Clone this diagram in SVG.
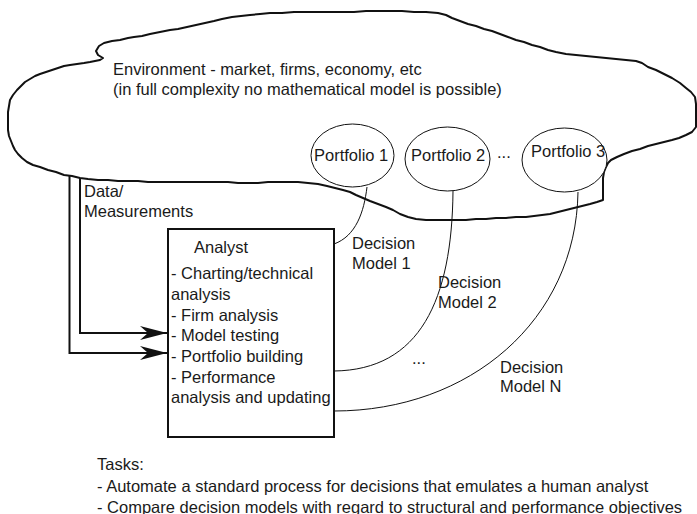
<svg xmlns="http://www.w3.org/2000/svg" width="697" height="514" viewBox="0 0 697 514">
  <style>
    text { font-family: "Liberation Sans", Arial, sans-serif; font-size: 16.5px; fill: #1a1a1a; }
    .cloud { fill: #ffffff; stroke: #111111; stroke-width: 2; stroke-linejoin: round; }
    .port { fill: #ffffff; stroke: #111111; stroke-width: 1; }
    .box { fill: #ffffff; stroke: #111111; stroke-width: 2; }
    .flow { fill: none; stroke: #111111; stroke-width: 2; }
    .link { fill: none; stroke: #111111; stroke-width: 1; }
  </style>
  <defs>
    <marker id="head" markerUnits="userSpaceOnUse" markerWidth="30" markerHeight="16" viewBox="-28 -8 30 16" refX="0" refY="0" orient="auto">
      <path d="M0,0 L-27,-7 L-19,0 L-27,7 Z" fill="#111111"/>
    </marker>
  </defs>

  <rect width="697" height="514" fill="#ffffff"/>

  <!-- environment cloud -->
  <g id="environment">
    <path class="cloud" d="M90,62 L100,60 L103,58 L98,55 L96,51 L99,46 L104,43 L112,41 L120,40 L128,38 L134,37 L142,36 L150,34 L160,32 L170,30 L178,29 L187,27 L196,25 L205,23 L214,21 L222,19 L232,17 L241,16 L250,15 L260,14 L270,13 L282,13 L294,12 L306,12 L318,12 L330,12 L342,12 L354,12 L366,11 L378,11 L390,11 L402,11 L414,12 L426,12 L438,13 L446,15 L452,18 L460,21 L468,24 L476,26 L484,29 L492,31 L500,34 L508,37 L516,40 L524,42 L532,45 L540,47 L548,50 L556,52 L566,54 L576,55 L586,56 L596,57 L606,58 L616,59 L626,60 L636,61 L642,63 L648,67 L656,70 L664,74 L672,78 L680,83 L686,88 L691,92 L695,97 L696,104 L696,112 L696,120 L696,127 L692,132 L686,135 L679,138 L672,140 L664,142 L656,144 L648,146 L640,149 L632,151 L624,154 L617,157 L611,160 L608,163 L606,167 L604,172 L603,178 L603,186 L603,194 L603,200 L597,202 L590,204 L582,206 L574,208 L566,210 L558,212 L550,214 L542,215 L534,216 L526,217 L516,217 L506,218 L496,218 L486,219 L476,219 L466,220 L456,220 L446,220 L436,220 L426,220 L416,219 L408,217 L400,214 L393,210 L386,207 L378,204 L370,201 L363,198 L356,195 L350,192 L343,190 L335,188 L327,186 L318,184 L308,183 L298,182 L288,182 L278,182 L268,182 L258,183 L248,183 L238,183 L228,182 L218,182 L208,182 L198,182 L188,182 L178,182 L168,182 L158,182 L148,182 L138,181 L128,181 L118,181 L108,180 L98,180 L88,179 L80,178 L72,176 L64,175 L56,172 L48,170 L40,167 L33,165 L27,162 L22,158 L18,154 L15,150 L13,146 L11,141 L9,136 L8,130 L8,124 L8,118 L8,112 L9,106 L10,100 L13,95 L17,90 L21,86 L25,82 L30,79 L35,76 L40,74 L46,72 L52,70 L58,68 L64,66 L70,65 L77,64 L84,63 Z"/>
    <text x="113" y="75">Environment - market, firms, economy, etc</text>
    <text x="113" y="95">(in full complexity no mathematical model is possible)</text>
  </g>

  <!-- portfolios -->
  <g id="portfolio1">
    <ellipse class="port" cx="352.5" cy="155.5" rx="41.5" ry="31.5"/>
    <text x="314" y="161">Portfolio 1</text>
  </g>
  <g id="portfolio2">
    <ellipse class="port" cx="447.5" cy="159" rx="42.5" ry="32"/>
    <text x="411" y="161">Portfolio 2</text>
  </g>
  <text x="497" y="158">...</text>
  <g id="portfolio3">
    <ellipse class="port" cx="564.5" cy="160" rx="42.5" ry="32"/>
    <text x="531" y="157">Portfolio 3</text>
  </g>

  <!-- analyst -->
  <g id="analyst">
    <rect class="box" x="168" y="229" width="166" height="208"/>
    <text x="194" y="253">Analyst</text>
    <text x="171" y="279">- Charting/technical</text>
    <text x="171" y="300">analysis</text>
    <text x="171" y="320.5">- Firm analysis</text>
    <text x="171" y="341">- Model testing</text>
    <text x="171" y="362">- Portfolio building</text>
    <text x="171" y="382.5">- Performance</text>
    <text x="171" y="403">analysis and updating</text>
  </g>

  <!-- connectors -->
  <g id="connectors">
    <path class="flow" d="M80,178 V333 H167" marker-end="url(#head)"/>
    <path class="flow" d="M69.5,175 V353 H167" marker-end="url(#head)"/>
    <path class="link" d="M367,187 C364,212 356,236 334,244"/>
    <path class="link" d="M453,191 C452,300 420,370 334,371"/>
    <path class="link" d="M578,192 C576,320 470,411 334,411"/>
    <text x="84" y="197">Data/</text>
    <text x="84" y="217">Measurements</text>
    <text x="352" y="249">Decision</text>
    <text x="352" y="269">Model 1</text>
    <text x="438" y="288">Decision</text>
    <text x="438" y="308">Model 2</text>
    <text x="412" y="364">...</text>
    <text x="500" y="372.5">Decision</text>
    <text x="500" y="392">Model N</text>
  </g>

  <!-- task list -->
  <g id="tasks">
    <text x="97" y="470">Tasks:</text>
    <text x="97" y="491.5">- Automate a standard process for decisions that emulates a human analyst</text>
    <text x="97" y="512.5">- Compare decision models with regard to structural and performance objectives</text>
  </g>
</svg>
